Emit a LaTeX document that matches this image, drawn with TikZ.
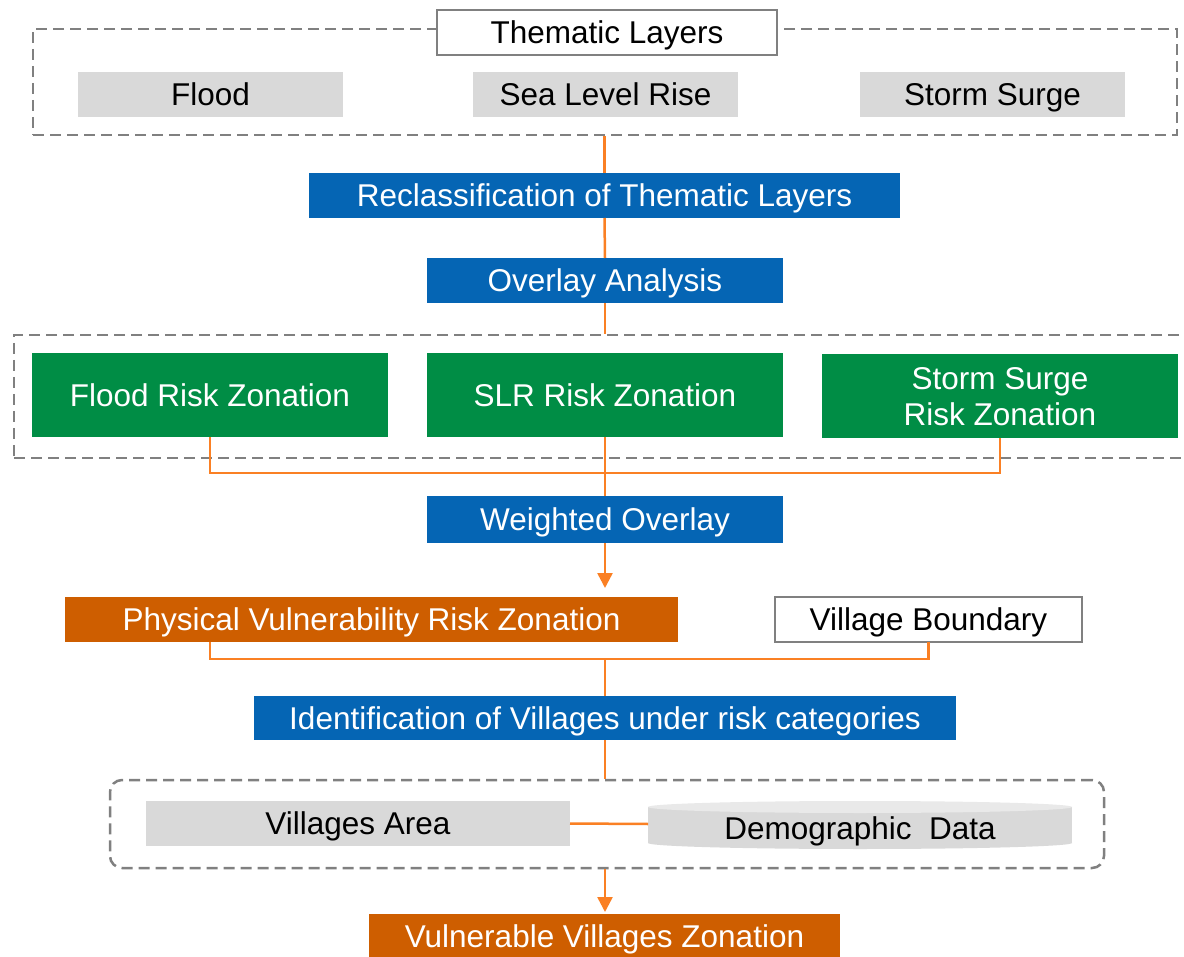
\documentclass[tikz,border=0pt]{standalone}
\usepackage{fontspec}
\setmainfont{Liberation Sans}
\usetikzlibrary{arrows.meta,calc}
\definecolor{blueC}{RGB}{5,101,180}
\definecolor{greenC}{RGB}{0,141,69}
\definecolor{orangeF}{RGB}{206,94,0}
\definecolor{orangeL}{RGB}{250,128,36}
\definecolor{grayF}{RGB}{217,217,217}
\definecolor{grayT}{RGB}{233,233,233}
\definecolor{grayD}{RGB}{128,128,128}
\tikzset{
  base/.style={inner sep=0pt, outer sep=0pt, font=\fontsize{31.5}{37}\selectfont, align=center, text height=22.5pt, text depth=0pt},
  graybox/.style={base, fill=grayF, text=black},
  whitebox/.style={base, fill=white, draw=grayD, line width=2pt, text=black},
  bluebox/.style={base, fill=blueC, text=white},
  greenbox/.style={base, fill=greenC, text=white},
  orangebox/.style={base, fill=orangeF, text=white},
  grpbox/.style={inner sep=0pt, draw=grayD, line width=2.5pt, dash pattern=on 11pt off 6pt},
  conn/.style={draw=orangeL, line width=2.5pt},
  arr/.style={conn, -{Triangle[width=15pt,length=15pt]}}
}
\begin{document}
\begin{tikzpicture}[x=1pt,y=-1pt]
\useasboundingbox[fill=white] (0,0) rectangle (1184,957);
% group boxes
\node[grpbox, minimum width=1144pt, minimum height=106pt] (grp1) at (605,82) {};
\node[grpbox, minimum width=1184pt, minimum height=123pt] (grp2) at (606,396.5) {};
\node[grpbox, rounded corners=12pt, minimum width=994pt, minimum height=88pt] (grp3) at (607,824) {};
% top
\node[whitebox, minimum width=340pt, minimum height=45pt] (thematic) at (607,32.5) {Thematic Layers};
\node[graybox, minimum width=265pt, minimum height=45pt] (flood) at (210.5,94.5) {Flood};
\node[graybox, minimum width=265pt, minimum height=45pt] (slr) at (605.5,94.5) {Sea Level Rise};
\node[graybox, minimum width=265pt, minimum height=45pt] (storm) at (992.5,94.5) {Storm Surge};
\node[bluebox, minimum width=591pt, minimum height=45pt] (reclass) at (604.5,195.5) {Reclassification of Thematic Layers};
\node[bluebox, minimum width=356pt, minimum height=45pt] (overlay) at (605,280.5) {Overlay Analysis};
% risk zonations
\node[greenbox, minimum width=356pt, minimum height=84pt] (frz) at (210,395) {Flood Risk Zonation};
\node[greenbox, minimum width=356pt, minimum height=84pt] (slrz) at (605,395) {SLR Risk Zonation};
\node[greenbox, minimum width=356pt, minimum height=84pt, text height=58.5pt, text depth=0pt] (ssrz) at (1000,396) {Storm Surge\\[-1pt]Risk Zonation};
\node[bluebox, minimum width=356pt, minimum height=47pt] (weighted) at (605,519.5) {Weighted Overlay};
\node[orangebox, minimum width=613pt, minimum height=45pt] (phys) at (371.5,619.5) {Physical Vulnerability Risk Zonation};
\node[whitebox, minimum width=307pt, minimum height=45pt] (vb) at (928.5,619.5) {Village Boundary};
\node[bluebox, minimum width=702pt, minimum height=44pt] (ident) at (605,718) {Identification of Villages under risk categories};
% bottom
\node[graybox, minimum width=424pt, minimum height=45pt] (varea) at (358,823.5) {Villages Area};
\fill[grayF] (648,807) rectangle (1072,843);
\fill[grayF] (860,843) ellipse [x radius=212pt, y radius=6pt];
\fill[grayT] (860,807) ellipse [x radius=212pt, y radius=6pt];
\coordinate (cylL) at (648,824);
\node[base, text=black] (demo) at (860,828) {Demographic\ \ Data};
\node[orangebox, minimum width=471pt, minimum height=44pt] (vuln) at (604.5,936) {Vulnerable Villages Zonation};
% connectors
\draw[conn] (grp1.south -| reclass.north) -- (reclass.north);
\draw[conn] (reclass.south) -- (overlay.north);
\draw[conn] (overlay.south) -- (overlay.south |- grp2.north);
\draw[conn] (frz.south) -- ++(0,36) -| (ssrz.south);
\draw[conn] (slrz.south) -- (weighted.north);
\draw[arr, shorten >=9pt] (weighted.south) -- (weighted.south |- phys.north);
\draw[conn] (phys.south -| frz.south) -- ++(0,17) -| (vb.south);
\coordinate (j2) at (ident.north |- 0,659);
\draw[conn] (j2) -- (ident.north);
\draw[conn] (ident.south) -- (ident.south |- grp3.north);
\draw[conn] (varea.east) -- (cylL);
\draw[arr, shorten >=2pt] (grp3.south -| ident.south) -- (ident.south |- vuln.north);
\end{tikzpicture}
\end{document}
